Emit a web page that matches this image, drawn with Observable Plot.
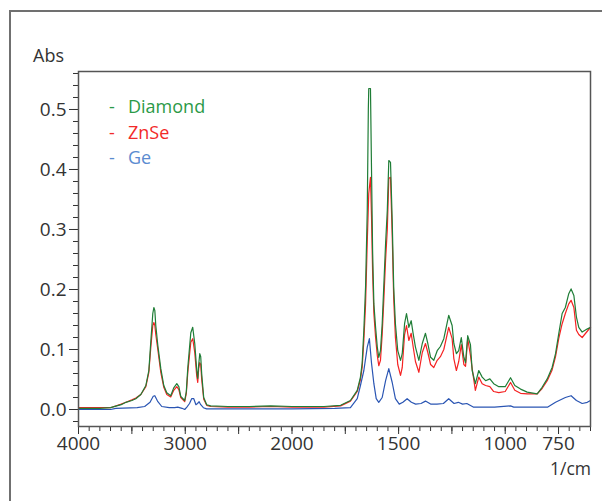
<!DOCTYPE html>
<html><head><meta charset="utf-8">
<script src="https://cdn.jsdelivr.net/npm/d3@7"></script>
<script src="https://cdn.jsdelivr.net/npm/@observablehq/plot@0.6"></script>
<style>
body{margin:0;background:#fff;}
#wrap{position:relative;width:602px;height:501px;overflow:hidden;font-family:"Open Sans",sans-serif;color:#333;}
#outer{position:absolute;left:9px;top:10px;width:700px;height:600px;border-left:2px solid #707070;border-top:2px solid #707070;}
#chart{position:absolute;left:0;top:0;}
.lab{position:absolute;font-size:18px;line-height:16px;white-space:nowrap;}
.leg{position:absolute;left:109px;font-size:18px;line-height:22px;white-space:nowrap;}
.leg span.d{display:inline-block;width:19px;}
</style></head>
<body>
<div id="wrap">
  <div id="outer"></div>
  <div id="chart"></div>
  <div class="lab" style="left:20px;width:44px;text-align:right;top:47px;">Abs</div>
  <div class="lab" style="left:520px;width:71px;text-align:right;top:456px;font-size:17.5px;line-height:normal;">1/cm</div>
  <div id="legend"></div>
</div>
<script>
// ---- data ----
const seriesNames = ["Diamond", "ZnSe", "Ge"];
const lineColors = ["#1f7d36", "#f52222", "#2a55b3"];
const legendColors = ["#2b9a48", "#f22a2a", "#5b8bd0"];

const diamondWn = [4000,3900,3800,3700,3600,3556,3500,3463,3416,3369,3341,3322,3304,3294,3285,3276,3257,3229,3201,3173,3136,3108,3079,3060,3042,3005,2990,2976,2948,2930,2911,2892,2883,2874,2864,2855,2846,2827,2799,2762,2600,2400,2200,2000,1850,1772,1726,1694,1679,1671,1663,1655,1647,1642,1640,1632,1627,1622,1616,1608,1600,1593,1585,1577,1569,1561,1553,1546,1538,1530,1523,1515,1504,1491,1483,1472,1463,1452,1441,1432,1421,1405,1389,1374,1363,1350,1335,1319,1304,1288,1265,1249,1241,1229,1218,1206,1194,1186,1176,1163,1155,1140,1124,1108,1092,1072,1054,1030,1000,975,955,928,897,850,827,803,780,764,749,733,718,702,691,678,666,655,639,616,600];
const diamondAbs = [0.002,0.002,0.002,0.003,0.008,0.012,0.015,0.018,0.025,0.040,0.065,0.115,0.160,0.170,0.165,0.140,0.107,0.068,0.040,0.028,0.023,0.036,0.043,0.038,0.022,0.015,0.030,0.070,0.128,0.137,0.110,0.065,0.052,0.075,0.093,0.088,0.060,0.020,0.008,0.006,0.005,0.005,0.006,0.005,0.005,0.007,0.015,0.032,0.054,0.077,0.132,0.204,0.332,0.500,0.535,0.535,0.398,0.265,0.176,0.137,0.104,0.087,0.098,0.143,0.210,0.277,0.332,0.415,0.412,0.315,0.204,0.143,0.098,0.082,0.093,0.143,0.160,0.137,0.148,0.127,0.104,0.082,0.110,0.127,0.110,0.087,0.082,0.098,0.105,0.118,0.157,0.140,0.110,0.093,0.098,0.120,0.087,0.078,0.123,0.108,0.065,0.043,0.065,0.054,0.048,0.051,0.043,0.038,0.038,0.053,0.040,0.034,0.029,0.026,0.037,0.051,0.070,0.093,0.126,0.160,0.170,0.193,0.201,0.190,0.154,0.137,0.129,0.134,0.137];

const znseWn = [4000,3900,3800,3700,3600,3556,3500,3463,3416,3369,3341,3322,3304,3294,3285,3276,3257,3229,3201,3173,3136,3108,3079,3060,3042,3005,2990,2976,2948,2930,2911,2892,2883,2874,2864,2855,2846,2827,2799,2762,2600,2400,2200,2000,1850,1772,1726,1694,1679,1671,1663,1655,1647,1640,1632,1627,1622,1616,1608,1600,1593,1585,1577,1569,1561,1553,1546,1538,1530,1523,1515,1504,1491,1483,1472,1463,1452,1441,1432,1421,1405,1389,1374,1363,1350,1335,1319,1304,1288,1265,1249,1241,1229,1218,1206,1194,1186,1176,1163,1155,1140,1124,1108,1092,1072,1054,1030,1000,975,955,928,897,850,827,803,780,764,749,733,718,702,691,678,666,655,639,616,600];
const znseAbs = [0.003,0.003,0.003,0.003,0.009,0.012,0.016,0.019,0.025,0.038,0.062,0.105,0.140,0.145,0.140,0.125,0.100,0.062,0.037,0.025,0.021,0.032,0.038,0.033,0.020,0.013,0.027,0.062,0.112,0.118,0.095,0.055,0.045,0.068,0.078,0.075,0.050,0.017,0.007,0.005,0.004,0.004,0.005,0.004,0.004,0.006,0.014,0.030,0.050,0.070,0.115,0.175,0.280,0.360,0.387,0.320,0.230,0.160,0.120,0.090,0.073,0.082,0.125,0.185,0.250,0.300,0.385,0.387,0.290,0.185,0.120,0.075,0.057,0.070,0.125,0.140,0.115,0.127,0.105,0.080,0.062,0.095,0.110,0.095,0.075,0.070,0.082,0.088,0.100,0.137,0.118,0.085,0.065,0.080,0.108,0.075,0.072,0.118,0.090,0.068,0.032,0.054,0.043,0.040,0.038,0.030,0.028,0.030,0.045,0.032,0.027,0.026,0.026,0.035,0.048,0.066,0.088,0.118,0.143,0.160,0.176,0.182,0.170,0.132,0.125,0.120,0.130,0.137];

const geWn = [4000,3700,3650,3450,3380,3330,3300,3285,3260,3220,3150,3100,3070,3030,3005,2985,2960,2940,2920,2900,2885,2870,2855,2830,2800,2000,1800,1726,1694,1679,1663,1647,1637,1627,1616,1605,1593,1577,1561,1546,1530,1515,1497,1480,1460,1440,1420,1395,1374,1350,1320,1290,1265,1240,1220,1200,1180,1150,1050,975,960,800,764,718,691,666,639,615,600];
const geAbs = [0.000,0.000,0.002,0.003,0.005,0.012,0.022,0.023,0.014,0.005,0.003,0.003,0.004,0.002,0.000,0.004,0.010,0.018,0.018,0.008,0.010,0.013,0.008,0.003,0.001,0.001,0.002,0.003,0.018,0.040,0.065,0.104,0.118,0.077,0.043,0.018,0.012,0.020,0.048,0.068,0.045,0.018,0.009,0.012,0.018,0.012,0.009,0.010,0.014,0.009,0.009,0.010,0.018,0.010,0.012,0.009,0.010,0.004,0.004,0.006,0.004,0.004,0.012,0.020,0.023,0.015,0.010,0.012,0.015];

const xTickLabels = [4000, 3000, 2000, 1500, 1000, 750];
const xMidTicks = [3500, 2500, 1750, 1250];
const yTickLabels = [0.0, 0.1, 0.2, 0.3, 0.4, 0.5];

// ---- build ----
const toRows = (wn, ab) => wn.map((w, i) => ({w, a: ab[i]}));
const rows = [toRows(diamondWn, diamondAbs), toRows(znseWn, znseAbs), toRows(geWn, geAbs)];

const xMinor = d3.range(4000, 2000, -100).concat(d3.range(2000, 599, -50));
const yMinor = d3.range(-0.02, 0.561, 0.02);

const chart = Plot.plot({
  width: 602,
  height: 501,
  marginLeft: 78, marginRight: 12, marginTop: 71, marginBottom: 75,
  style: {fontFamily: "'Open Sans', sans-serif", background: "transparent", color: "#333"},
  x: {type: "linear", domain: [4000, 2000, 600], range: [78, 291.5, 590], label: null},
  y: {domain: [-0.02833, 0.56333], range: [426, 71], label: null},
  marks: [
    Plot.axisY(yMinor, {anchor: "left", tickSize: 5, text: null, label: null, stroke: "#333"}),
    Plot.axisY(yTickLabels, {anchor: "left", tickSize: 9, tickPadding: 3, tickFormat: d => d.toFixed(1), fontSize: 19, label: null, color: "#333"}),
    Plot.axisX(xMinor, {anchor: "bottom", tickSize: 5, text: null, label: null, stroke: "#333"}),
    Plot.axisX(xMidTicks, {anchor: "bottom", tickSize: 8, text: null, label: null, stroke: "#333"}),
    Plot.axisX(xTickLabels, {anchor: "bottom", tickSize: 8, tickPadding: 2, tickFormat: d => String(d), fontSize: 19, label: null, color: "#333"}),
    Plot.line(rows[1], {x: "w", y: "a", stroke: lineColors[1], strokeWidth: 1.2}),
    Plot.line(rows[0], {x: "w", y: "a", stroke: lineColors[0], strokeWidth: 1.2}),
    Plot.line(rows[2], {x: "w", y: "a", stroke: lineColors[2], strokeWidth: 1.2}),
    Plot.frame({stroke: "#555", strokeWidth: 1.5})
  ]
});
document.getElementById("chart").appendChild(chart);

const leg = document.getElementById("legend");
seriesNames.forEach((name, i) => {
  const d = document.createElement("div");
  d.className = "leg";
  d.style.top = (95 + i * 25.5) + "px";
  d.style.color = legendColors[i];
  d.innerHTML = '<span class="d">-</span>' + name;
  leg.appendChild(d);
});
</script>
</body></html>
